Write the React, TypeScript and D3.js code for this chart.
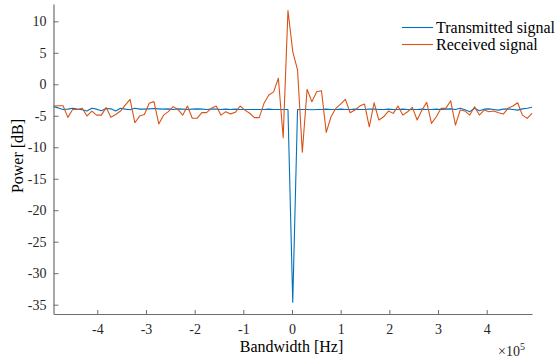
import React, { useEffect, useRef } from "react";
import * as d3 from "d3";

// frequency grid in units of 1e5 Hz (101 bins)
const freqStart = -4.9;
const freqStep = 0.0983;

// transmitted signal power [dB]
const transmitted = [
  -3.55, -3.75, -4.0, -3.95, -3.8, -3.95, -4.05, -4.25, -3.8, -3.95,
  -4.2, -3.85, -3.9, -4.25, -3.8, -3.95, -4.05, -3.8, -3.95, -3.95,
  -3.9, -3.85, -3.9, -3.95, -3.9, -4.0, -3.9, -3.95, -4.0, -3.95,
  -3.9, -3.95, -4.0, -3.95, -3.95, -4.0, -3.95, -4.0, -3.95, -4.0,
  -4.0, -4.0, -4.0, -4.0, -4.0, -3.95, -4.0, -4.0, -4.0, -4.0,
  -34.6, -4.0, -4.0, -4.0, -4.05, -4.0, -4.0, -3.95, -4.0, -4.0,
  -3.95, -4.0, -4.0, -3.95, -4.0, -4.0, -3.95, -3.95, -4.0, -4.0,
  -3.95, -4.0, -4.0, -3.95, -4.0, -4.0, -4.0, -3.95, -4.0, -4.0,
  -3.95, -4.0, -3.95, -3.9, -4.0, -3.8, -4.05, -4.35, -3.8, -4.2,
  -3.95, -3.9, -4.0, -4.1, -3.95, -3.9, -4.0, -4.1, -3.9, -3.8,
  -3.66,
];

// received signal power [dB]
const received = [
  -3.45, -3.4, -3.4, -5.25, -4.0, -4.0, -3.8, -5.05, -4.25, -4.9,
  -4.9, -3.7, -5.25, -4.8, -4.25, -3.3, -2.4, -6.1, -5.05, -4.8,
  -3.0, -2.75, -6.3, -4.9, -4.35, -3.55, -4.0, -4.9, -3.45, -5.4,
  -5.4, -4.5, -4.5, -3.8, -3.45, -4.9, -4.35, -4.7, -4.45, -3.45,
  -4.1, -4.6, -5.3, -5.3, -3.0, -1.7, -1.2, 0.95, -8.5, 11.7,
  5.2, 2.3, -10.8, -0.8, -2.77, -1.18, -1.02, -7.64, -5.16, -3.82,
  -3.14, -2.39, -4.52, -4.09, -3.46, -3.14, -6.75, -2.93, -5.68, -5.16,
  -4.25, -4.62, -3.46, -4.89, -4.36, -3.66, -5.68, -4.09, -2.87, -6.21,
  -5.16, -3.82, -3.82, -2.61, -6.48, -4.09, -4.25, -4.89, -3.57, -4.89,
  -4.09, -4.36, -4.25, -4.52, -4.73, -3.82, -3.46, -2.93, -4.89, -5.41,
  -4.62,
];

const xTicks = [-4, -3, -2, -1, 0, 1, 2, 3, 4];
const yTicks = [-35, -30, -25, -20, -15, -10, -5, 0, 5, 10];
const seriesNames = ["Transmitted signal", "Received signal"];
const seriesColors = ["#0072BD", "#D95319"];

export default function App() {
  const ref = useRef<SVGSVGElement>(null);

  useEffect(() => {
    const width = 556;
    const height = 363;
    const left = 53.5, right = 532, top = 4, bottom = 314;
    const font = "Liberation Serif";

    const svg = d3.select(ref.current);
    svg.selectAll("*").remove();
    svg.attr("width", width).attr("height", height).attr("font-family", font);

    const x = d3.scaleLinear().domain([freqStart, freqStart + freqStep * 100]).range([left, right]);
    const y = d3.scaleLinear().domain([-36.48, 12.75]).range([bottom, top]);

    const line = d3.line<number>()
      .x((d, i) => x(freqStart + i * freqStep))
      .y((d) => y(d));

    [transmitted, received].forEach((s, k) => {
      svg.append("path").datum(s).attr("d", line)
        .attr("fill", "none").attr("stroke", seriesColors[k])
        .attr("stroke-width", 1.1).attr("stroke-linejoin", "round");
    });

    const axisColor = "#6e6e6e";
    const xAxis = d3.axisBottom(x).tickValues(xTicks).tickSizeInner(-4).tickSizeOuter(0)
      .tickPadding(10).tickFormat((d) => String(d));
    const yAxis = d3.axisLeft(y).tickValues(yTicks).tickSizeInner(-5).tickSizeOuter(0)
      .tickPadding(7).tickFormat((d) => String(d));

    const gx = svg.append("g").attr("transform", `translate(0, ${bottom})`).call(xAxis);
    const gy = svg.append("g").attr("transform", `translate(${left}, 0)`).call(yAxis);
    [gx, gy].forEach((g) => {
      g.attr("font-family", font).attr("font-size", 14);
      g.select(".domain").attr("stroke", axisColor).attr("stroke-width", 1.2);
      g.selectAll(".tick line").attr("stroke", axisColor).attr("stroke-width", 1);
      g.selectAll(".tick text").attr("fill", "#262626");
    });

    svg.append("text").attr("x", 291.5).attr("y", 352).attr("text-anchor", "middle")
      .attr("font-size", 16).attr("fill", "#000").text("Bandwidth [Hz]");

    svg.append("text").attr("transform", "translate(23, 156) rotate(-90)").attr("text-anchor", "middle")
      .attr("font-size", 16).attr("fill", "#000").text("Power [dB]");

    const mult = svg.append("text").attr("x", 498).attr("y", 356).attr("font-size", 14).attr("fill", "#262626");
    mult.append("tspan").text("×10");
    mult.append("tspan").attr("dy", -6).attr("font-size", 10).text("5");

    seriesNames.forEach((name, k) => {
      const ly = 27.5 + k * 17;
      svg.append("line").attr("x1", 402).attr("x2", 433).attr("y1", ly).attr("y2", ly)
        .attr("stroke", seriesColors[k]).attr("stroke-width", 1.1);
      svg.append("text").attr("x", 436).attr("y", ly + 5).attr("font-size", 16)
        .attr("fill", "#000").text(name);
    });
  }, []);

  return <svg ref={ref} style={{ position: "absolute", left: 0, top: 0 }} />;
}
